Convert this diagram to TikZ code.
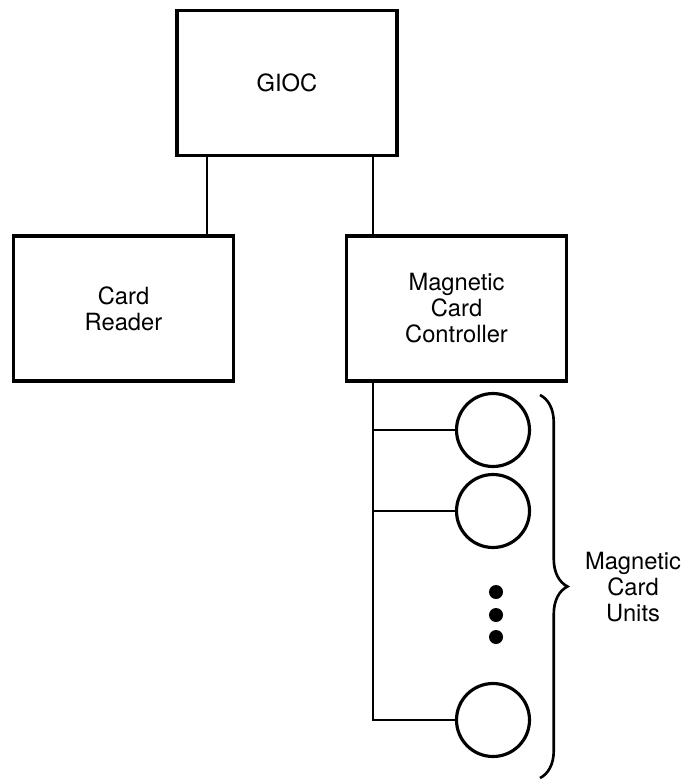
\documentclass[tikz,border=0pt]{standalone}
\usepackage{fontspec}
\setmainfont{TeX Gyre Heros}
\usetikzlibrary{decorations.pathreplacing}
\tikzset{
  block/.style={draw, line width=2.2pt, minimum width=4.4cm, minimum height=2.9cm,
    align=center, font=\fontsize{13.5}{14.8}\selectfont},
  unit/.style={draw, circle, line width=1.8pt, minimum size=1.46cm, inner sep=0pt},
  wire/.style={line width=1.2pt},
}
\begin{document}
\begin{tikzpicture}[x=0.02cm,y=-0.02cm]
  \useasboundingbox (0,0) rectangle (682,780);
  % blocks
  \node[block] (gioc) at (287,83) {GIOC};
  \node[block] (reader) at (123.5,308.5) {Card\\Reader};
  \node[block] (mcc) at (456.5,308.5) {Magnetic\\Card\\Controller};
  % taps
  \coordinate (tapA) at (207,0);
  \coordinate (bus) at (373,0);
  \draw[wire] (gioc.south -| tapA) -- (reader.north -| tapA);
  \draw[wire] (gioc.south -| bus) -- (mcc.north -| bus);
  % card units
  \node[unit] (unit1) at (493,430) {};
  \node[unit] (unit2) at (493,511) {};
  \node[unit] (unit3) at (493,720) {};
  \draw[wire] (mcc.south -| bus) -- (unit3.west -| bus) -- (unit3.west);
  \foreach \u in {unit1,unit2}
    \draw[wire] (\u.west -| bus) -- (\u.west);
  \foreach \y in {592,615,637}
    \fill (496,\y) circle (0.14cm);
  % brace
  \draw[line width=1.5pt, decorate, decoration={brace, amplitude=0.55cm}]
    (540,395) -- (540,778);
  \node[align=center, font=\fontsize{13.5}{14.8}\selectfont] (units) at (633,587)
    {Magnetic\\Card\\Units};
\end{tikzpicture}
\end{document}
